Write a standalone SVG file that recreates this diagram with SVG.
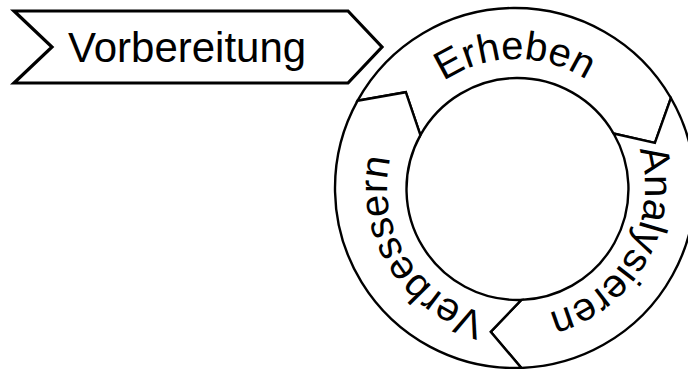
<svg xmlns="http://www.w3.org/2000/svg" xmlns:xlink="http://www.w3.org/1999/xlink" width="688" height="369" viewBox="0 0 688 369">
  <style>
    .seg { fill: #ffffff; stroke: #000000; stroke-width: 2.4; stroke-linejoin: miter; }
    .chev { fill: #ffffff; stroke: #000000; stroke-width: 3.2; stroke-linejoin: miter; }
    .lbl { font-family: "Liberation Sans", Arial, sans-serif; fill: #000000; }
    .ring { font-size: 40px; }
  </style>
  <defs>
    <!-- baseline arcs for the ring labels, clockwise, one per segment (r = 129 about 516,188) -->
    <path id="arc-erheben" d="M 403.2 125.5 A 129 129 0 0 1 627.7 123.5" fill="none"/>
    <path id="arc-analysieren" d="M 627.7 123.5 A 129 129 0 0 1 520.5 316.9" fill="none"/>
    <path id="arc-verbessern" d="M 520.5 316.9 A 129 129 0 0 1 403.2 125.5" fill="none"/>
  </defs>

  <g id="vorbereitung">
    <polygon class="chev" points="14,11 348,11 382,47 348,83 14,83 52,47"/>
    <text class="lbl" x="68" y="62" font-size="42">Vorbereitung</text>
  </g>

  <g id="cycle">
    <g id="erheben">
      <path class="seg" d="M 357.6 100.7 A 180 180 0 0 1 670.9 98 L 654.9 142.9 L 613.6 133.5 A 111 111 0 0 0 420.4 135.2 L 405.8 92.2 Z"/>
      <text class="lbl ring"><textPath xlink:href="#arc-erheben" href="#arc-erheben" startOffset="50%" text-anchor="middle">Erheben</textPath></text>
    </g>
    <g id="analysieren">
      <path class="seg" d="M 670.9 98 A 180 180 0 0 1 521.3 367.9 L 490.7 331.8 L 521.4 299.9 A 111 111 0 0 0 613.6 133.5 L 654.9 142.9 Z"/>
      <text class="lbl ring"><textPath xlink:href="#arc-analysieren" href="#arc-analysieren" startOffset="50%" text-anchor="middle">Analysieren</textPath></text>
    </g>
    <g id="verbessern">
      <path class="seg" d="M 521.3 367.9 A 180 180 0 0 1 357.6 100.7 L 405.8 92.2 L 420.4 135.2 A 111 111 0 0 0 521.4 299.9 L 490.7 331.8 Z"/>
      <text class="lbl ring"><textPath xlink:href="#arc-verbessern" href="#arc-verbessern" startOffset="50%" text-anchor="middle">Verbessern</textPath></text>
    </g>
  </g>

  <g id="connectors"/>
</svg>
